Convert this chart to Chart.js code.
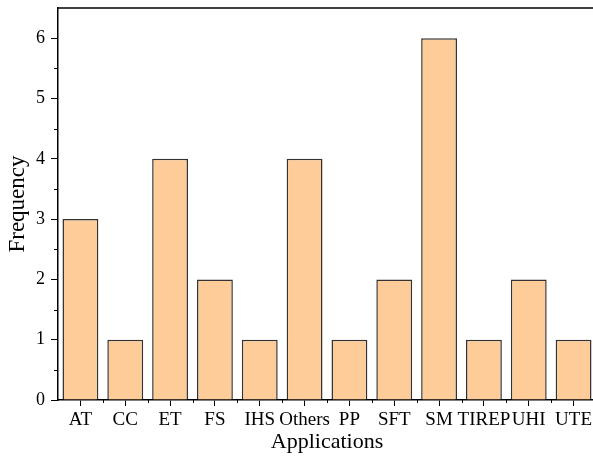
<!DOCTYPE html>
<html>
<head>
<meta charset="utf-8">
<script src="https://cdn.jsdelivr.net/npm/chart.js@4/dist/chart.umd.min.js"></script>
<style>
  html, body { margin: 0; padding: 0; overflow: hidden; background: #fff; }
  #wrap { width: 598px; height: 457px; }
</style>
</head>
<body>
<div id="wrap"><canvas id="freqChart"></canvas></div>
<script>
const categories = ['AT', 'CC', 'ET', 'FS', 'IHS', 'Others', 'PP', 'SFT', 'SM', 'TIREP', 'UHI', 'UTE'];
const frequency = [3, 1, 4, 2, 1, 4, 1, 2, 6, 1, 2, 1];
const yTicks = [0, 1, 2, 3, 4, 5, 6];

const serif = "'Liberation Serif', 'Times New Roman', serif";

// minor ticks + top frame line, Origin style
const framePlugin = {
  id: 'frame',
  afterDraw(chart) {
    const { ctx, chartArea, scales } = chart;
    const x = scales.x, y = scales.y;
    ctx.save();
    ctx.strokeStyle = '#000';
    ctx.lineWidth = 1;
    // y minor ticks
    for (let v = 0.5; v < 6.5; v += 1) {
      const py = Math.round(y.getPixelForValue(v)) + 0.5;
      ctx.beginPath();
      ctx.moveTo(chartArea.left - 4, py);
      ctx.lineTo(chartArea.left, py);
      ctx.stroke();
    }
    // x minor ticks between categories
    for (let i = 0; i < categories.length - 1; i++) {
      const px = Math.round((x.getPixelForValue(i) + x.getPixelForValue(i + 1)) / 2) + 0.5;
      ctx.beginPath();
      ctx.moveTo(px, chartArea.bottom);
      ctx.lineTo(px, chartArea.bottom + 3);
      ctx.stroke();
    }
    // top frame
    ctx.lineWidth = 1.5;
    ctx.beginPath();
    ctx.moveTo(chartArea.left, chartArea.top);
    ctx.lineTo(chartArea.right + 5, chartArea.top);
    ctx.stroke();
    ctx.restore();
  }
};

new Chart(document.getElementById('freqChart'), {
  type: 'bar',
  data: {
    labels: categories,
    datasets: [{
      label: 'Frequency',
      data: frequency,
      backgroundColor: '#FECC99',
      borderColor: '#333',
      borderWidth: 1.5,
      categoryPercentage: 0.8,
      barPercentage: 1
    }]
  },
  options: {
    responsive: true,
    maintainAspectRatio: false,
    animation: false,
    layout: { padding: { top: 8, right: 2, left: 0, bottom: 0 } },
    plugins: { legend: { display: false }, tooltip: { enabled: false } },
    scales: {
      x: {
        offset: true,
        grid: { display: true, offset: false, drawOnChartArea: false, tickLength: 6, color: '#000', tickWidth: 1 },
        border: { display: true, color: '#000', width: 1.5 },
        ticks: { color: '#000', font: { family: serif, size: 19 }, padding: 3, maxRotation: 0, autoSkip: false },
        title: { display: true, text: 'Applications', color: '#000', font: { family: serif, size: 22 }, padding: { top: 0, bottom: 2 } },
        afterFit(scale) { scale.height = 57; scale.paddingLeft = 0; scale.paddingRight = 0; }
      },
      y: {
        min: 0,
        max: 6.5,
        afterBuildTicks(scale) { scale.ticks = yTicks.map(v => ({ value: v })); },
        grid: { display: true, drawOnChartArea: false, tickLength: 7, color: '#000', tickWidth: 1 },
        border: { display: true, color: '#000', width: 1.5 },
        ticks: { color: '#000', font: { family: serif, size: 18 }, padding: 6 },
        title: { display: true, text: 'Frequency', color: '#000', font: { family: serif, size: 23 }, padding: { top: 4, bottom: 0 } },
        afterFit(scale) { scale.width = 58; scale.paddingTop = 0; scale.paddingBottom = 0; }
      }
    }
  },
  plugins: [framePlugin]
});
</script>
</body>
</html>
